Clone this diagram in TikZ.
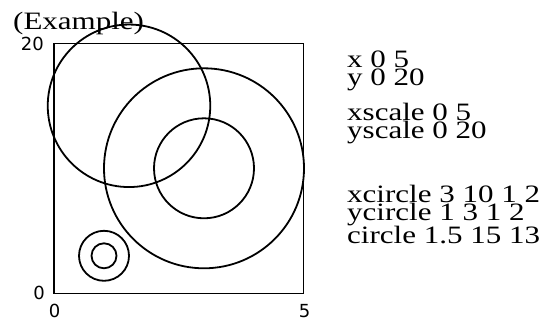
\documentclass[tikz,border=0pt]{standalone}
\usepackage{fontspec}
\setmainfont{Liberation Serif}
\newfontfamily\axisfont{DejaVu Sans}
\usepackage{graphicx}
\usepackage{tikz}
\usetikzlibrary{positioning}

\newcommand{\widetext}[1]{\scalebox{1.24}[1]{#1}}

\begin{document}
\begin{tikzpicture}[
  x=1pt, y=-1pt,
  cmd/.style={anchor=base west, inner sep=0pt,
    font=\fontsize{25}{25}\selectfont},
  tick/.style={inner sep=0pt, font=\axisfont\fontsize{18}{18}\selectfont},
  ring/.style={draw, line width=1.8pt},
]
  \useasboundingbox (0,0) rectangle (545,320);

  \node[cmd] (title) at (13,29.5) {\widetext{(Example)}};

  % plot frame and axis numbers
  \draw[line width=1.2pt] (54,43.3) rectangle (303.3,293.3);
  \node[tick, anchor=east] (ytop) at (44,43.5) {20};
  \node[tick, anchor=east] (ybot) at (45,293) {0};
  \node[tick, anchor=base] (xlft) at (54.7,317) {0};
  \node[tick, anchor=base] (xrgt) at (304.7,317) {5};

  % data units: x 0..5, y 0..20
  \begin{scope}[shift={(54,293.3)}, x=50pt, y=12.5pt]
    \draw[ring] (3,10) circle[radius=50pt];
    \draw[ring] (3,10) circle[radius=100pt];
    \draw[ring] (1,3) circle[radius=12.5pt];
    \draw[ring] (1,3) circle[radius=25pt];
    \draw[ring] (1.5,15) circle[radius=81.25pt];
  \end{scope}

  % command listing
  \node[cmd] (xr) at (347,68) {\widetext{x 0 5}};
  \node[cmd] (yr) at (347,85.5) {\widetext{y 0 20}};
  \node[cmd] (xs) at (347,121) {\widetext{xscale 0 5}};
  \node[cmd] (ys) at (347,138.5) {\widetext{yscale 0 20}};
  \node[cmd] (xc) at (347,203) {\widetext{xcircle 3 10 1 2}};
  \node[cmd] (yc) at (347,220.5) {\widetext{ycircle 1 3 1 2}};
  \node[cmd] (cc) at (347,243) {\widetext{circle 1.5 15 13}};
\end{tikzpicture}
\end{document}
